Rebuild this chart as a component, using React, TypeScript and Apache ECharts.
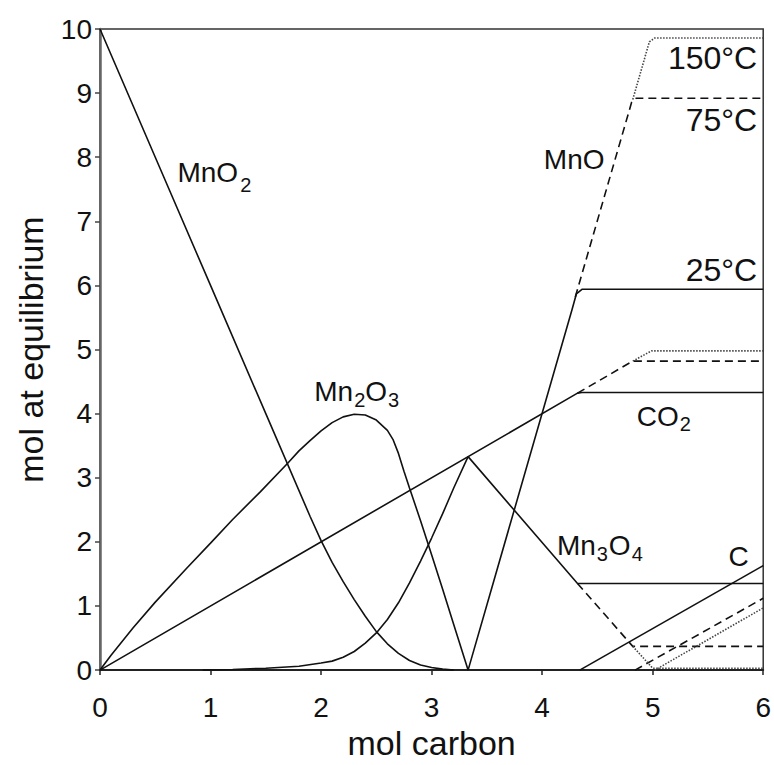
import React, { useEffect, useRef } from 'react';
import * as echarts from 'echarts';

// ---- axis ticks ----
const xTickValues = [0, 1, 2, 3, 4, 5, 6];
const yTickValues = [0, 1, 2, 3, 4, 5, 6, 7, 8, 9, 10];

// ---- 25 °C (solid) curves: [mol carbon, mol at equilibrium] ----
const mnO2_25: number[][] = [
  [0, 10], [0.5, 8], [1, 6], [1.5, 4], [1.9, 2.4], [2.0, 2.02], [2.1, 1.68], [2.2, 1.38],
  [2.3, 1.1], [2.4, 0.84], [2.5, 0.6], [2.6, 0.41], [2.7, 0.26], [2.8, 0.15], [2.9, 0.08],
  [3.0, 0.04], [3.1, 0.015], [3.2, 0],
];
const mn2O3_25: number[][] = [
  [0, 0], [0.1, 0.23], [0.3, 0.66], [0.5, 1.06], [0.78, 1.58], [1.0, 1.98], [1.2, 2.35],
  [1.45, 2.78], [1.7, 3.23], [1.8, 3.42], [1.9, 3.58], [2.0, 3.73], [2.1, 3.86], [2.2, 3.95],
  [2.3, 3.99], [2.4, 3.98], [2.5, 3.9], [2.6, 3.74], [2.65, 3.6], [2.7, 3.38], [2.75, 3.1],
  [2.8, 2.84], [2.9, 2.33], [3.0, 1.8], [3.1, 1.26], [3.2, 0.71], [3.33, 0],
];
const mn3O4_25: number[][] = [
  [0.93, 0], [1.2, 0.01], [1.5, 0.03], [1.8, 0.06], [2.0, 0.11], [2.1, 0.14], [2.2, 0.2],
  [2.3, 0.29], [2.4, 0.42], [2.5, 0.58], [2.6, 0.79], [2.7, 1.05], [2.8, 1.36], [2.9, 1.7],
  [3.0, 2.06], [3.1, 2.44], [3.2, 2.84], [3.33, 3.33], [4.32, 1.35], [6, 1.35],
];
const mnO_25: number[][] = [[3.33, 0], [4.27, 5.62], [4.31, 5.87], [4.36, 5.94], [6, 5.94]];
const co2_25: number[][] = [[0, 0], [4.32, 4.32], [4.36, 4.33], [6, 4.33]];
const c_25: number[][] = [[4.34, 0], [6, 1.63]];

// ---- 75 °C (dashed) branches ----
const mnO_75: number[][] = [[4.3, 5.82], [4.81, 8.86], [4.85, 8.92], [6, 8.92]];
const co2_75: number[][] = [[4.32, 4.32], [4.82, 4.82], [6, 4.82]];
const mn3O4_75: number[][] = [[4.32, 1.35], [4.82, 0.37], [6, 0.37]];
const c_75: number[][] = [[4.84, 0], [6, 1.12]];

// ---- 150 °C (dotted) branches ----
const mnO_150: number[][] = [[4.82, 8.9], [4.97, 9.8], [5.02, 9.86], [6, 9.86]];
const co2_150: number[][] = [[4.82, 4.82], [4.99, 4.98], [6, 4.98]];
const mn3O4_150: number[][] = [[4.82, 0.37], [5.0, 0.03], [6, 0.03]];
const c_150: number[][] = [[5.02, 0], [6, 0.97]];

// ---- in-plot labels (text pieces; subscripts are separate pieces) ----
const labelTexts = [
  'MnO', '2',
  'Mn', '2', 'O', '3',
  'MnO',
  'CO', '2',
  'Mn', '3', 'O', '4',
  'C',
  '150°C', '75°C', '25°C',
];
const labelKinds = [
  'main', 'sub',
  'main', 'sub', 'main', 'sub',
  'main',
  'main', 'sub',
  'main', 'sub', 'main', 'sub',
  'main',
  'temp', 'temp', 'temp',
];
// anchor (top-left; top-right for temperatures) in data coordinates
const labelAnchors: number[][] = [
  [0.705, 7.97], [1.274, 7.72],
  [1.943, 4.562], [2.304, 4.356], [2.404, 4.562], [2.611, 4.356],
  [4.02, 8.17],
  [4.86, 4.17], [5.25, 3.98],
  [4.138, 2.161], [4.499, 1.96], [4.608, 2.161], [4.816, 1.96],
  [5.69, 1.98],
  [5.95, 9.79], [5.95, 8.82], [5.95, 6.49],
];

const FONT = "'Liberation Sans', Arial, Helvetica, sans-serif";
const INK = '#111';

export default function App() {
  const ref = useRef<HTMLDivElement>(null);

  useEffect(() => {
    if (!ref.current) return;
    const chart = echarts.init(ref.current, undefined, { renderer: 'svg' });

    const lineSeries = (name: string, data: number[][], kind: 'solid' | 'dashed' | 'dotted') => ({
      name,
      type: 'line',
      data,
      showSymbol: false,
      symbol: 'none',
      silent: true,
      lineStyle: {
        color: kind === 'dotted' ? '#444' : INK,
        width: 1.6,
        type: kind === 'solid' ? 'solid' : kind === 'dashed' ? [8, 5] : [1.5, 1.5],
      },
      z: kind === 'solid' ? 3 : kind === 'dashed' ? 4 : 5,
    });

    const sizeOf = (k: string) => (k === 'sub' ? 20 : k === 'temp' ? 32 : 28);

    const labelData = labelTexts.map((txt, i) => {
      const fs = sizeOf(labelKinds[i]);
      return {
        value: labelAnchors[i],
        label: {
          show: true,
          position: [0, 0],
          align: labelKinds[i] === 'temp' ? 'right' : 'left',
          verticalAlign: 'top',
          formatter: txt,
          fontSize: fs,
          lineHeight: fs,
          fontFamily: FONT,
          color: INK,
          opacity: 1,
          textBorderWidth: 0,
        },
      };
    });

    chart.setOption({
      animation: false,
      backgroundColor: '#fff',
      grid: {
        left: 100,
        right: 10,
        top: 29,
        bottom: 85,
        show: true,
        borderColor: '#333',
        borderWidth: 1.5,
        backgroundColor: 'transparent',
      },
      xAxis: {
        type: 'value',
        min: 0,
        max: 6,
        interval: 1,
        name: 'mol carbon',
        nameLocation: 'middle',
        nameGap: 55,
        nameTextStyle: { fontSize: 34, fontFamily: FONT, color: INK },
        axisLine: { show: true, lineStyle: { color: '#222', width: 2 } },
        axisTick: { show: true, length: 5, lineStyle: { color: '#222', width: 1.5 } },
        axisLabel: {
          fontSize: 28,
          fontFamily: FONT,
          color: INK,
          margin: 23,
          formatter: (v: number) => (xTickValues.includes(v) ? String(v) : ''),
        },
        splitLine: { show: false },
      },
      yAxis: {
        type: 'value',
        min: 0,
        max: 10,
        interval: 1,
        name: 'mol at equilibrium',
        nameLocation: 'middle',
        nameGap: 52,
        nameTextStyle: { fontSize: 34, fontFamily: FONT, color: INK },
        axisLine: { show: true, lineStyle: { color: '#666', width: 2.5 } },
        axisTick: { show: true, length: 5, lineStyle: { color: '#444', width: 1.5 } },
        axisLabel: {
          fontSize: 28,
          fontFamily: FONT,
          color: INK,
          margin: 8,
          formatter: (v: number) => (yTickValues.includes(v) ? String(v) : ''),
        },
        splitLine: { show: false },
      },
      series: [
        lineSeries('MnO2', mnO2_25, 'solid'),
        lineSeries('Mn2O3', mn2O3_25, 'solid'),
        lineSeries('Mn3O4 25°C', mn3O4_25, 'solid'),
        lineSeries('MnO 25°C', mnO_25, 'solid'),
        lineSeries('CO2 25°C', co2_25, 'solid'),
        lineSeries('C 25°C', c_25, 'solid'),
        lineSeries('MnO 75°C', mnO_75, 'dashed'),
        lineSeries('CO2 75°C', co2_75, 'dashed'),
        lineSeries('Mn3O4 75°C', mn3O4_75, 'dashed'),
        lineSeries('C 75°C', c_75, 'dashed'),
        lineSeries('MnO 150°C', mnO_150, 'dotted'),
        lineSeries('CO2 150°C', co2_150, 'dotted'),
        lineSeries('Mn3O4 150°C', mn3O4_150, 'dotted'),
        lineSeries('C 150°C', c_150, 'dotted'),
        {
          name: 'labels',
          type: 'scatter',
          symbolSize: 1,
          itemStyle: { color: 'transparent', opacity: 1 },
          silent: true,
          data: labelData,
          z: 10,
        },
      ],
    });

    return () => chart.dispose();
  }, []);

  return (
    <div
      ref={ref}
      style={{ position: 'fixed', left: 0, top: 0, width: 774, height: 765, background: '#fff' }}
    />
  );
}
